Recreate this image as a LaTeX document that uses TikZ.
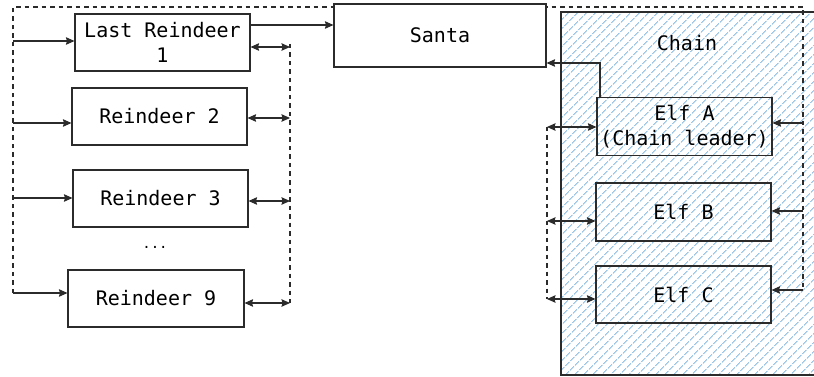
\documentclass[tikz,border=0pt]{standalone}
\usepackage{fontspec}
\setmonofont{DejaVu Sans Mono}
\usepackage{xcolor}
\usetikzlibrary{arrows.meta,patterns.meta}

\definecolor{hatchblue}{HTML}{9CC6E6}
\definecolor{ink}{HTML}{2B2B2B}

\begin{document}
\begin{tikzpicture}[x=1pt, y=-1pt,
  box/.style={draw=ink, line width=1.1pt, minimum width=175pt, minimum height=57pt,
    inner sep=0pt, align=center, font=\ttfamily\fontsize{20}{25}\selectfont},
  bus/.style={draw=ink, line width=1.1pt, dash pattern=on 4.5pt off 4pt},
  arr/.style={draw=ink, line width=1.1pt, -{Stealth[length=8.5pt,width=7.5pt,inset=1pt]}},
  dbl/.style={draw=ink, line width=1.1pt, {Stealth[length=8.5pt,width=7.5pt,inset=1pt]}-{Stealth[length=8.5pt,width=7.5pt,inset=1pt]}}]
  \useasboundingbox (0,0) rectangle (814,377);

  % Chain area with the hatching
  \draw[draw=ink, line width=1.8pt, pattern={Lines[angle=45, distance=6.4pt, line width=1.2pt]},
    pattern color=hatchblue] (561,12) rectangle (822,375);
  \node[font=\ttfamily\fontsize{20}{25}\selectfont] (chain) at (687,43) {Chain};

  % Dashed buses
  \coordinate (tl) at (13,7);
  \coordinate (tr) at (803,7);
  \draw[bus] (13,293) -- (tl) -- (tr) -- (803,290);
  \draw[bus] (290,44) -- (290,303);
  \draw[bus] (547,127) -- (547,299);

  % Santa and the reindeer
  \node[box, fill=white, minimum width=212pt, minimum height=63pt] (santa) at (440,35.5) {Santa};
  \node[box, fill=white] (rd1) at (162.5,42.5) {Last Reindeer\\1};
  \node[box, fill=white] (rd2) at (159.5,116.5) {Reindeer 2};
  \node[box, fill=white] (rd3) at (160.5,198.5) {Reindeer 3};
  \node[font=\ttfamily\fontsize{14}{16}\selectfont] (dots) at (155,247) {...};
  \node[box, fill=white, minimum width=176pt] (rd9) at (156,298.5) {Reindeer 9};

  % Elves in the chain
  \node[box, minimum height=58pt] (elfA) at (684.5,126.5) {Elf A\\(Chain leader)};
  \node[box, minimum height=58pt] (elfB) at (683.5,212) {Elf B};
  \node[box] (elfC) at (683.5,294.5) {Elf C};

  % Left bus into the reindeer
  \foreach \n/\y in {rd1/41, rd2/123, rd3/198, rd9/293} {
    \coordinate (l-\n) at (13,\y);
    \draw[arr] (l-\n) -- (l-\n -| \n.west);
  }

  % Right bus between the reindeer
  \foreach \n/\y in {rd1/47, rd2/118, rd3/201, rd9/303} {
    \coordinate (r-\n) at (290,\y);
    \draw[dbl] (r-\n -| \n.east) -- (r-\n);
  }

  % Buses beside the elves
  \foreach \n/\y in {elfA/127, elfB/221, elfC/299} {
    \coordinate (el-\n) at (547,\y);
    \draw[dbl] (el-\n) -- (el-\n -| \n.west);
  }
  \foreach \n/\y in {elfA/123, elfB/211, elfC/290} {
    \coordinate (er-\n) at (803,\y);
    \draw[arr] (er-\n) -- (er-\n -| \n.east);
  }

  % To Santa
  \draw[arr] (rd1.east |- 0,25) -- (santa.west |- 0,25);
  \draw[arr] (elfA.north -| 600,0) |- (santa.east |- 0,63);
\end{tikzpicture}
\end{document}
